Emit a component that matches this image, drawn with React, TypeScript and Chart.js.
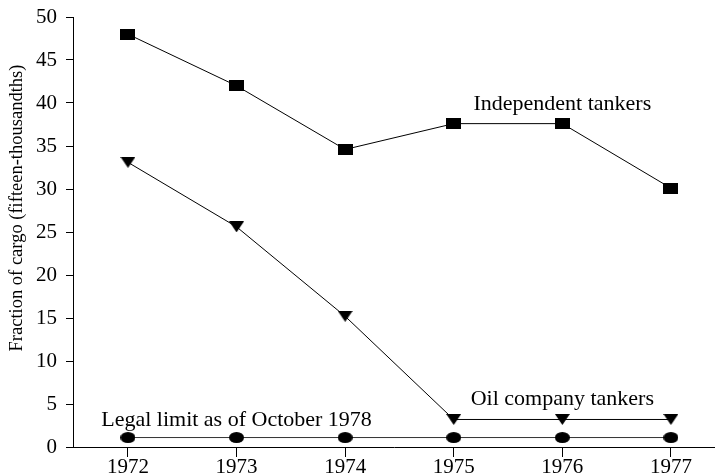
import React, { useEffect, useRef } from "react";
import { Chart, registerables } from "chart.js";

Chart.register(...registerables);

const years = [1972, 1973, 1974, 1975, 1976, 1977];
const independentTankers = [48, 42, 34.6, 37.6, 37.6, 30.1];
const oilCompanyTankers = [33.1, 25.6, 15.2, 3.2, 3.2, 3.2];
const legalLimit = [1.1, 1.1, 1.1, 1.1, 1.1, 1.1];
const yTicks = [0, 5, 10, 15, 20, 25, 30, 35, 40, 45, 50];
const yTitle = "Fraction of cargo (fifteen-thousandths)";
const annotations = [
  { text: "Independent tankers", x: 1976, y: 39.2 },
  { text: "Oil company tankers", x: 1976, y: 4.85 },
  { text: "Legal limit as of October 1978", x: 1973, y: 2.5 },
];

const FONT = "'Liberation Serif', 'Times New Roman', serif";

function makeMarker(kind: string): HTMLCanvasElement {
  const c = document.createElement("canvas");
  const w = 15, h = 11;
  c.width = w;
  c.height = h;
  const ctx = c.getContext("2d")!;
  ctx.fillStyle = "#000";
  if (kind === "rect") {
    ctx.fillRect(0, 0, w, h);
  } else if (kind === "ellipse") {
    ctx.beginPath();
    ctx.ellipse(w / 2, h / 2, w / 2, h / 2, 0, 0, Math.PI * 2);
    ctx.fill();
  } else {
    ctx.beginPath();
    ctx.moveTo(0, 0);
    ctx.lineTo(w, 0);
    ctx.lineTo(w / 2, h);
    ctx.closePath();
    ctx.fill();
  }
  return c;
}

export default function App() {
  const ref = useRef<HTMLCanvasElement>(null);
  useEffect(() => {
    if (!ref.current) return;
    const rect = makeMarker("rect");
    const tri = makeMarker("tri");
    const ell = makeMarker("ellipse");
    const textPlugin = {
      id: "texts",
      afterDraw(chart: any) {
        const ctx = chart.ctx;
        const xs = chart.scales.x;
        const ys = chart.scales.y;
        ctx.save();
        ctx.fillStyle = "#000";
        ctx.font = `22px ${FONT}`;
        ctx.textAlign = "center";
        ctx.textBaseline = "alphabetic";
        annotations.forEach((a) => {
          ctx.fillText(a.text, xs.getPixelForValue(a.x), ys.getPixelForValue(a.y));
        });
        ctx.font = `18.5px ${FONT}`;
        ctx.translate(17, 208);
        ctx.rotate(-Math.PI / 2);
        ctx.textBaseline = "middle";
        ctx.fillText(yTitle, 0, 0);
        ctx.restore();
      },
    };
    const mk = (d: number[]) => d.map((v, i) => ({ x: years[i], y: v }));
    const chart = new Chart(ref.current, {
      type: "line",
      data: {
        datasets: [
          {
            data: mk(independentTankers),
            borderColor: "#000",
            borderWidth: 1,
            pointStyle: rect as any,
            pointRadius: 6,
          },
          {
            data: mk(oilCompanyTankers),
            borderColor: "#000",
            borderWidth: 1,
            pointStyle: tri as any,
            pointRadius: 6,
          },
          {
            data: mk(legalLimit),
            borderColor: "#333",
            borderWidth: 1,
            pointStyle: ell as any,
            pointRadius: 6,
          },
        ],
      },
      options: {
        animation: false,
        responsive: true,
        maintainAspectRatio: false,
        layout: { autoPadding: false, padding: { top: 17, right: 0, left: 0, bottom: 0 } },
        plugins: { legend: { display: false }, tooltip: { enabled: false } },
        scales: {
          x: {
            type: "linear",
            min: 1971.494,
            max: 1977.406,
            afterBuildTicks: (s: any) => {
              s.ticks = years.map((v) => ({ value: v }));
            },
            afterFit: (s: any) => {
              s.height = 28;
              s.paddingLeft = 0;
              s.paddingRight = 0;
            },
            grid: { drawOnChartArea: false, drawTicks: true, tickLength: 10, color: "#000" },
            border: { color: "#000", width: 1 },
            ticks: {
              color: "#000",
              font: { family: FONT, size: 21 },
              padding: -2,
              maxRotation: 0,
              autoSkip: false,
              callback: (v: any) => String(v),
            },
          },
          y: {
            min: 0,
            max: 50,
            afterBuildTicks: (s: any) => {
              s.ticks = yTicks.map((v) => ({ value: v }));
            },
            afterFit: (s: any) => {
              s.width = 73;
              s.paddingTop = 0;
              s.paddingBottom = 0;
            },
            grid: { drawOnChartArea: false, drawTicks: true, tickLength: 7, color: "#000" },
            border: { color: "#000", width: 1 },
            ticks: {
              color: "#000",
              font: { family: FONT, size: 21 },
              padding: 9,
              autoSkip: false,
            },
          },
        },
      },
      plugins: [textPlugin],
    });
    return () => chart.destroy();
  }, []);
  return (
    <div style={{ position: "fixed", left: 0, top: 0, width: 715, height: 475, background: "#fff" }}>
      <canvas ref={ref} />
    </div>
  );
}
